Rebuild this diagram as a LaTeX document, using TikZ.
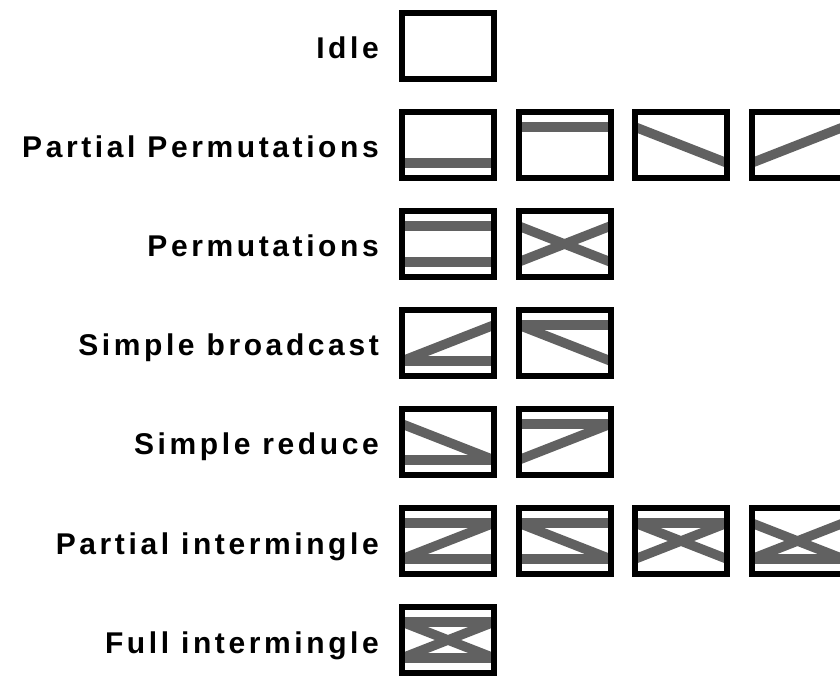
\documentclass[tikz,border=0pt]{standalone}
\usepackage{fontspec}
\newfontfamily\lblfont{Liberation Sans}[LetterSpace=12]
\usetikzlibrary{backgrounds}
\tikzstyle{sw}=[draw,line width=6pt,minimum width=92pt,minimum height=66pt,inner sep=0pt,outer sep=0pt]
\tikzstyle{wire}=[line width=9.5pt,black!62]
\tikzstyle{lbl}=[anchor=base east,inner sep=0pt,font=\lblfont\bfseries\fontsize{30}{30}\selectfont]
% wires inside a switch box
\newcommand{\wtop}[1]{\draw[wire] ([yshift=18pt]#1.west) -- ([yshift=18pt]#1.east);}
\newcommand{\wbot}[1]{\draw[wire] ([yshift=-18pt]#1.west) -- ([yshift=-18pt]#1.east);}
\newcommand{\wdn}[1]{\draw[wire] ([yshift=18pt]#1.west) -- ([yshift=-18pt]#1.east);}
\newcommand{\wup}[1]{\draw[wire] ([yshift=-18pt]#1.west) -- ([yshift=18pt]#1.east);}

\begin{document}
\begin{tikzpicture}[x=1pt,y=1pt,node distance=99pt]
	\useasboundingbox (0,0) rectangle (840,675);
	% first column
	\node(idle)[sw] at (448,629){};
	\node(pp1)[sw,below of=idle]{};
	\node(pm1)[sw,below of=pp1]{};
	\node(sb1)[sw,below of=pm1]{};
	\node(sr1)[sw,below of=sb1]{};
	\node(pi1)[sw,below of=sr1]{};
	\node(fi1)[sw,below of=pi1]{};
	% other columns
	\node(pp2)[sw,node distance=116.5pt,right of=pp1]{};
	\node(pp3)[sw,node distance=116.5pt,right of=pp2]{};
	\node(pp4)[sw,node distance=116.5pt,right of=pp3]{};
	\node(pm2)[sw,node distance=116.5pt,right of=pm1]{};
	\node(sb2)[sw,node distance=116.5pt,right of=sb1]{};
	\node(sr2)[sw,node distance=116.5pt,right of=sr1]{};
	\node(pi2)[sw,node distance=116.5pt,right of=pi1]{};
	\node(pi3)[sw,node distance=116.5pt,right of=pi2]{};
	\node(pi4)[sw,node distance=116.5pt,right of=pi3]{};

	\node(tidle)[lbl] at ([xshift=-69pt,yshift=-13pt]idle){Idle};
	\node(tpp)[lbl] at ([xshift=-69pt,yshift=-13pt]pp1){Partial Permutations};
	\node(tpm)[lbl] at ([xshift=-69pt,yshift=-13pt]pm1){Permutations};
	\node(tsb)[lbl] at ([xshift=-69pt,yshift=-13pt]sb1){Simple broadcast};
	\node(tsr)[lbl] at ([xshift=-69pt,yshift=-13pt]sr1){Simple reduce};
	\node(tpi)[lbl] at ([xshift=-69pt,yshift=-13pt]pi1){Partial intermingle};
	\node(tfi)[lbl] at ([xshift=-69pt,yshift=-13pt]fi1){Full intermingle};

	\begin{scope}[on background layer]
		\wbot{pp1} \wtop{pp2} \wdn{pp3} \wup{pp4}
		\wtop{pm1} \wbot{pm1} \wdn{pm2} \wup{pm2}
		\wbot{sb1} \wup{sb1} \wtop{sb2} \wdn{sb2}
		\wbot{sr1} \wdn{sr1} \wtop{sr2} \wup{sr2}
		\wtop{pi1} \wbot{pi1} \wup{pi1}
		\wtop{pi2} \wbot{pi2} \wdn{pi2}
		\wtop{pi3} \wdn{pi3} \wup{pi3}
		\wbot{pi4} \wdn{pi4} \wup{pi4}
		\wtop{fi1} \wbot{fi1} \wdn{fi1} \wup{fi1}
	\end{scope}
\end{tikzpicture}
\end{document}
